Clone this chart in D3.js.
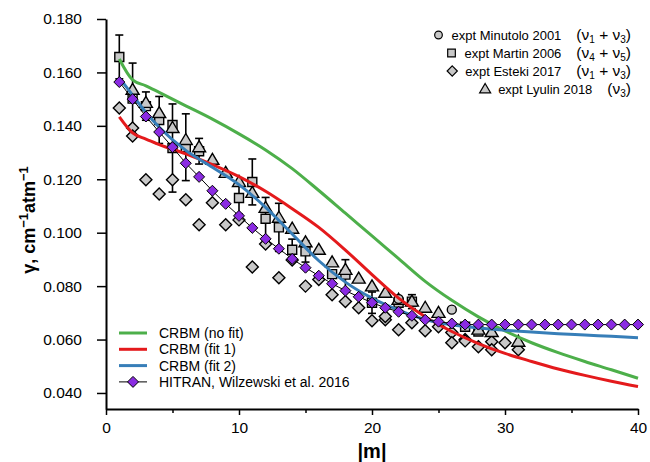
<!DOCTYPE html>
<html lang="en">
<head>
    <meta charset="UTF-8">
    <title>Line widths vs |m|</title>
    <style>
        body {
            margin: 0;
            background: #fff;
            font-family: "Liberation Sans", Arial, sans-serif;
        }
        .axis path, .axis line {
            stroke: #000;
        }
        .axis path { stroke-width: 2; }
        .axis line { stroke-width: 1.5; }
        .axis text {
            font-family: "Liberation Sans", Arial, sans-serif;
            font-size: 15.5px;
            fill: #000;
        }
        .legend text {
            font-size: 14px;
            fill: #000;
        }
        .mark {
            fill: #c8c8c8;
            stroke: #000;
            stroke-width: 1.4;
        }
    </style>
</head>
<body>
    <svg id="chart" width="650" height="462"></svg>

    <script src="https://d3js.org/d3.v7.min.js"></script>
    <script>
        // HITRAN (Wilzewski et al. 2016), |m| = 1..40
        const hitranM = [1, 2, 3, 4, 5, 6, 7, 8, 9, 10, 11, 12, 13, 14, 15, 16, 17, 18, 19, 20,
                         21, 22, 23, 24, 25, 26, 27, 28, 29, 30, 31, 32, 33, 34, 35, 36, 37, 38, 39, 40];
        const hitranG = [0.1564, 0.1500, 0.1435, 0.1377, 0.1320, 0.1260, 0.1209, 0.1157, 0.1108, 0.1063,
                         0.1018, 0.0977, 0.0940, 0.0902, 0.0869, 0.0839, 0.0809, 0.0783, 0.0760, 0.0738,
                         0.0719, 0.0704, 0.0689, 0.0674, 0.0667, 0.0660, 0.0656, 0.0656, 0.0656, 0.0656,
                         0.0656, 0.0656, 0.0656, 0.0656, 0.0656, 0.0656, 0.0656, 0.0656, 0.0656, 0.0656];

        // CRBM calculations
        const crbmM     = [1, 2, 3, 4, 6, 8, 10, 12, 14, 16, 18, 20, 22, 24, 26, 28, 30, 32, 34, 36, 38, 40];
        const crbmNoFit = [0.1650, 0.1572, 0.1550, 0.1525, 0.1475, 0.1425, 0.1370, 0.1310, 0.1240, 0.1158, 0.1073,
                           0.0988, 0.0903, 0.0818, 0.0747, 0.0685, 0.0632, 0.0588, 0.0551, 0.0518, 0.0487, 0.0455];
        const crbmFit1  = [0.1434, 0.1374, 0.1350, 0.1330, 0.1295, 0.1255, 0.1210, 0.1155, 0.1090, 0.1020, 0.0935,
                           0.0843, 0.0755, 0.0685, 0.0630, 0.0585, 0.0548, 0.0518, 0.0490, 0.0466, 0.0444, 0.0424];
        const crbmFit2  = [0.1580, 0.1515, 0.1450, 0.1395, 0.1308, 0.1245, 0.1180, 0.1095, 0.0995, 0.0895, 0.0815,
                           0.0755, 0.0710, 0.0675, 0.0655, 0.0643, 0.0635, 0.0628, 0.0622, 0.0617, 0.0612, 0.0607];

        // experiments: [|m|, gamma]
        const minutolo = [[22, 0.0752], [26, 0.0712]];
        // [|m|, gamma, error]
        const martin = [[1, 0.1658, 0.0082], [2, 0.1502, 0.0133], [3, 0.1474, 0.0053], [4, 0.1422, 0.0088],
                        [5, 0.1403, 0], [5, 0.1317, 0.0165], [6, 0.1320, 0.0125], [7, 0.1305, 0.0048],
                        [10, 0.1130, 0.0060], [11, 0.1190, 0.0086], [12, 0.1052, 0.0080], [13, 0.1020, 0.0090],
                        [14, 0.0936, 0.0040], [15, 0.0930, 0.0040], [17, 0.0845, 0], [18, 0.0843, 0.0056],
                        [20, 0.0738, 0.0040], [22, 0.0738, 0], [23, 0.0742, 0.0026], [27, 0.0648, 0.0015],
                        [28, 0.0630, 0]];
        const esteki = [[1, 0.1467], [2, 0.1392], [2, 0.1362], [3, 0.1198], [4, 0.1145], [5, 0.1198],
                        [6, 0.1123], [7, 0.1030], [8, 0.1112], [9, 0.1030], [10, 0.1048], [11, 0.0872],
                        [12, 0.0958], [13, 0.0831], [14, 0.0898], [15, 0.0800], [16, 0.0825], [17, 0.0768],
                        [18, 0.0742], [19, 0.0719], [20, 0.0670], [21, 0.0674], [21, 0.0686], [22, 0.0637],
                        [23, 0.0663], [24, 0.0633], [25, 0.0648], [26, 0.0626], [26, 0.0588], [27, 0.0600],
                        [27, 0.0595], [28, 0.0573], [29, 0.0592], [29, 0.0562], [30, 0.0588], [31, 0.0562]];
        const lyulin = [[2, 0.1535], [3, 0.1486], [4, 0.1448], [5, 0.1392], [6, 0.1347], [7, 0.1320],
                        [8, 0.1273], [9, 0.1224], [10, 0.1190], [11, 0.1149], [12, 0.1093], [13, 0.1056],
                        [14, 0.1015], [15, 0.0964], [16, 0.0936], [17, 0.0889], [18, 0.0861], [19, 0.0828],
                        [20, 0.0799], [21, 0.0775], [22, 0.0749], [23, 0.0742], [24, 0.0719], [25, 0.0700],
                        [28, 0.0637], [29, 0.0628], [31, 0.0592]];

        const yTicks = [0.040, 0.060, 0.080, 0.100, 0.120, 0.140, 0.160, 0.180];
        const xTicks = [0, 10, 20, 30, 40];
        const xMinor = [5, 15, 25, 35];

        const svg = d3.select('#chart');
        const x = d3.scaleLinear().domain([0, 40]).range([106, 638]);
        const y = d3.scaleLinear().domain([0.034, 0.180]).range([409, 19]);

        // marker shapes
        const shapes = {
            circle: 'M4.5,0A4.5,4.5 0 1,1 -4.5,0A4.5,4.5 0 1,1 4.5,0Z',
            square: 'M-4.5,-4.5H4.5V4.5H-4.5Z',
            diamond: 'M0,-6L6,0L0,6L-6,0Z',
            triangle: 'M0,-6.5L6.5,4.5L-6.5,4.5Z',
            hitran: 'M0,-5.5L5.5,0L0,5.5L-5.5,0Z'
        };

        // axes
        svg.append('g')
            .attr('class', 'axis')
            .attr('transform', 'translate(106,0)')
            .call(d3.axisLeft(y).tickValues(yTicks).tickFormat(d3.format('.3f'))
                .tickSize(9).tickPadding(15).tickSizeOuter(0));

        svg.append('g')
            .attr('class', 'axis')
            .attr('transform', 'translate(0,409)')
            .call(d3.axisBottom(x).tickValues(xTicks).tickFormat(d3.format('d'))
                .tickSize(6).tickPadding(7).tickSizeOuter(0));

        svg.append('g')
            .attr('class', 'axis')
            .attr('transform', 'translate(0,409)')
            .call(d3.axisBottom(x).tickValues(xMinor).tickFormat('').tickSize(4).tickSizeOuter(0))
            .select('.domain').remove();

        svg.append('text')
            .attr('x', x(20)).attr('y', 458)
            .attr('text-anchor', 'middle')
            .style('font-size', '20px').style('font-weight', 'bold')
            .text('|m|');

        const yTitle = svg.append('text')
            .attr('transform', 'translate(35,220) rotate(-90)')
            .attr('text-anchor', 'middle')
            .style('font-size', '18px').style('font-weight', 'bold');
        yTitle.append('tspan').text('\u03b3, cm');
        yTitle.append('tspan').attr('dy', -7).style('font-size', '13px').text('\u22121');
        yTitle.append('tspan').attr('dy', 7).text('atm');
        yTitle.append('tspan').attr('dy', -7).style('font-size', '13px').text('\u22121');

        // error bars (Martin)
        const bars = svg.append('g').attr('stroke', '#000').attr('stroke-width', 1.6);
        martin.filter(d => d[2] > 0).forEach(d => {
            const cx = x(d[0]), y1 = y(d[1] + d[2]), y2 = y(d[1] - d[2]);
            bars.append('line').attr('x1', cx).attr('x2', cx).attr('y1', y1).attr('y2', y2);
            bars.append('line').attr('x1', cx - 4).attr('x2', cx + 4).attr('y1', y1).attr('y2', y1);
            bars.append('line').attr('x1', cx - 4).attr('x2', cx + 4).attr('y1', y2).attr('y2', y2);
        });

        function drawMarks(data, shape) {
            svg.append('g').selectAll('path')
                .data(data).enter().append('path')
                .attr('class', 'mark')
                .attr('d', shapes[shape])
                .attr('transform', d => 'translate(' + x(d[0]) + ',' + y(d[1]) + ')');
        }
        drawMarks(esteki, 'diamond');
        drawMarks(martin, 'square');
        drawMarks(lyulin, 'triangle');
        drawMarks(minutolo, 'circle');

        // CRBM curves
        const crbm = [
            { name: 'CRBM (no fit)', color: '#4daf4a', values: crbmNoFit },
            { name: 'CRBM (fit 1)', color: '#e41a1c', values: crbmFit1 },
            { name: 'CRBM (fit 2)', color: '#377eb8', values: crbmFit2 }
        ];
        const line = d3.line()
            .x(d => x(d[0]))
            .y(d => y(d[1]))
            .curve(d3.curveMonotoneX);
        crbm.forEach(c => {
            svg.append('path')
                .datum(crbmM.map((m, i) => [m, c.values[i]]))
                .attr('fill', 'none')
                .attr('stroke', c.color)
                .attr('stroke-width', 3)
                .attr('d', line);
        });

        // HITRAN
        const hitran = hitranM.map((m, i) => [m, hitranG[i]]);
        svg.append('path')
            .datum(hitran)
            .attr('fill', 'none')
            .attr('stroke', '#000')
            .attr('stroke-width', 1)
            .attr('d', d3.line().x(d => x(d[0])).y(d => y(d[1])));
        svg.append('g').selectAll('path')
            .data(hitran).enter().append('path')
            .attr('d', shapes.hitran)
            .attr('fill', '#8a2be2')
            .attr('stroke', '#000')
            .attr('stroke-width', 1)
            .attr('transform', d => 'translate(' + x(d[0]) + ',' + y(d[1]) + ')');

        // legend, top right (experiments)
        const expLegend = [
            { shape: 'circle', label: 'expt Minutolo 2001', sub: ['1', '3'] },
            { shape: 'square', label: 'expt Martin 2006', sub: ['4', '5'] },
            { shape: 'diamond', label: 'expt Esteki 2017', sub: ['1', '3'] },
            { shape: 'triangle', label: 'expt Lyulin 2018', sub: ['3'] }
        ];
        const legTop = svg.append('g').attr('class', 'legend');
        expLegend.forEach((d, i) => {
            const yy = 40 + i * 18;
            // band part, right aligned
            const p = legTop.append('text').attr('x', 631).attr('y', yy)
                .attr('text-anchor', 'end').style('font-size', '15.5px');
            p.append('tspan').text('(\u03bd');
            p.append('tspan').attr('dy', 3).style('font-size', '10px').text(d.sub[0]);
            if (d.sub.length > 1) {
                p.append('tspan').attr('dy', -3).text('\u00a0+\u00a0\u03bd');
                p.append('tspan').attr('dy', 3).style('font-size', '10px').text(d.sub[1]);
            }
            p.append('tspan').attr('dy', -3).text(')');
            const pw = p.node().getComputedTextLength();
            const lx = 631 - pw - 15;
            const t = legTop.append('text').attr('x', lx).attr('y', yy)
                .attr('text-anchor', 'end').style('font-size', '13px')
                .text(d.label);
            const w = t.node().getComputedTextLength();
            legTop.append('path')
                .attr('class', 'mark')
                .attr('d', shapes[d.shape])
                .attr('transform', 'translate(' + (lx - w - 13) + ',' + (yy - 5) + ') scale(0.85)');
        });

        // legend, bottom left (calculations)
        const legBot = svg.append('g').attr('class', 'legend');
        crbm.forEach((c, i) => {
            const yy = 333 + i * 16.3;
            legBot.append('line')
                .attr('x1', 119).attr('x2', 147).attr('y1', yy).attr('y2', yy)
                .attr('stroke', c.color).attr('stroke-width', 3);
            legBot.append('text').attr('x', 159).attr('y', yy + 5).text(c.name);
        });
        const hy = 333 + 3 * 16.3;
        legBot.append('line')
            .attr('x1', 119).attr('x2', 147).attr('y1', hy).attr('y2', hy)
            .attr('stroke', '#000').attr('stroke-width', 1);
        legBot.append('path')
            .attr('d', shapes.hitran)
            .attr('fill', '#8a2be2').attr('stroke', '#000')
            .attr('transform', 'translate(133,' + hy + ')');
        legBot.append('text').attr('x', 159).attr('y', hy + 5).text('HITRAN, Wilzewski et al. 2016');
    </script>
</body>
</html>
